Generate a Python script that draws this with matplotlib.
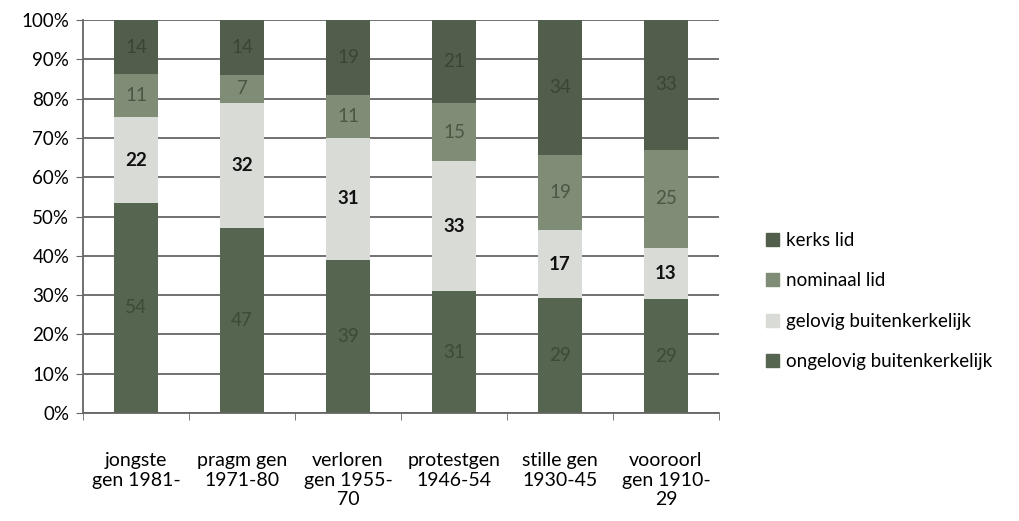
import numpy as np
import matplotlib.pyplot as plt
from matplotlib.patches import Patch

plt.rcParams['font.family'] = ['Lato', 'DejaVu Sans']

# categories and values (as printed in the bars, shown as 100% stacked)
generaties = ['jongste\ngen 1981-', 'pragm gen\n1971-80', 'verloren\ngen 1955-\n70',
              'protestgen\n1946-54', 'stille gen\n1930-45', 'vooroorl\ngen 1910-\n29']
ongelovig = [54, 47, 39, 31, 29, 29]
gelovig = [22, 32, 31, 33, 17, 13]
nominaal = [11, 7, 11, 15, 19, 25]
kerks = [14, 14, 19, 21, 34, 33]

series = [('ongelovig buitenkerkelijk', ongelovig, '#56654f', '#3c4a37', 'normal'),
          ('gelovig buitenkerkelijk', gelovig, '#d9dbd6', '#111111', 'bold'),
          ('nominaal lid', nominaal, '#7f8c76', '#4a5745', 'normal'),
          ('kerks lid', kerks, '#525e4c', '#3a4635', 'normal')]

totals = np.array(ongelovig) + np.array(gelovig) + np.array(nominaal) + np.array(kerks)

fig = plt.figure(figsize=[10.19, 5.21], dpi=100)
ax = fig.add_axes([0.0815, 0.2073, 0.624, 0.7543])

x = np.arange(len(generaties))
bottom = np.zeros(len(generaties))
for name, vals, col, tcol, w in series:
    h = np.array(vals) / totals * 100
    ax.bar(x, h, 0.41, bottom=bottom, color=col, zorder=2)
    for xi, b, hi, v in zip(x, bottom, h, vals):
        ax.text(xi, b + hi / 2, str(v), ha='center', va='center', fontsize=13.5,
                color=tcol, fontweight=w, zorder=3)
    bottom = bottom + h

ax.set_xlim(-0.5, len(generaties) - 0.5)
ax.set_ylim(0, 100)
ax.set_yticks(np.arange(0, 101, 10))
ax.set_yticklabels([f'{v}%' for v in range(0, 101, 10)], fontsize=13.5)
ax.yaxis.grid(True, color='#666666', linewidth=1.3, zorder=0)
ax.set_xticks(x)
ax.set_xticklabels(generaties, fontsize=14, linespacing=1.2)
ax.set_xticks(np.arange(-0.5, len(generaties)), minor=True)
ax.tick_params(axis='x', which='major', length=0, pad=28)
ax.tick_params(axis='x', which='minor', length=5, color='#666666')
ax.tick_params(axis='y', length=5, color='#666666', pad=5)
for s in ['top', 'right']:
    ax.spines[s].set_visible(False)
for s in ['left', 'bottom']:
    ax.spines[s].set_color('#666666')
    ax.spines[s].set_linewidth(1.3)

handles = [Patch(color=c, label=n) for n, v, c, t, w in series[::-1]]
fig.legend(handles=handles, loc='center left', bbox_to_anchor=(0.735, 0.422),
           frameon=False, fontsize=13.5, handlelength=0.7, handleheight=0.7,
           handletextpad=0.4, labelspacing=1.25)

fig.savefig('out.png', dpi=100)
